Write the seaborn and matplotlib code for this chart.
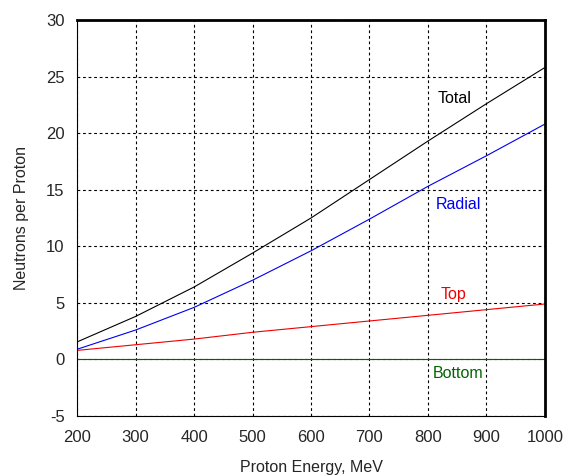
import numpy as np
import pandas as pd
import matplotlib
matplotlib.use("Agg")
import matplotlib.pyplot as plt
import seaborn as sns

energy = [200, 300, 400, 500, 600, 700, 800, 900, 1000]
total = [1.55, 3.8, 6.4, 9.4, 12.5, 15.9, 19.3, 22.6, 25.8]
radial = [0.9, 2.6, 4.6, 7.0, 9.6, 12.4, 15.3, 18.0, 20.8]
top = [0.8, 1.3, 1.8, 2.4, 2.9, 3.4, 3.9, 4.4, 4.9]
bottom = [0.05, 0.05, 0.05, 0.05, 0.05, 0.05, 0.05, 0.05, 0.05]

series = {"Total": total, "Radial": radial, "Top": top, "Bottom": bottom}
colors = {"Total": "#000000", "Radial": "#0000ee", "Top": "#ee0000", "Bottom": "#006400"}
label_pos = {"Total": (846, 23.1), "Radial": (852, 13.7), "Top": (844, 5.7), "Bottom": (852, -1.2)}

df = pd.DataFrame({"energy": energy, **series}).melt(
    id_vars="energy", var_name="part", value_name="neutrons")

sns.set_style("white")
plt.rcParams["font.family"] = ["Liberation Sans", "DejaVu Sans"]
plt.rcParams["axes.unicode_minus"] = False

fig, ax = plt.subplots(figsize=(5.67, 4.76), dpi=100)
fig.subplots_adjust(left=0.136, right=0.961, top=0.958, bottom=0.126)

sns.lineplot(data=df, x="energy", y="neutrons", hue="part", palette=colors,
             linewidth=0.8, legend=False, ax=ax)

for name, (lx, ly) in label_pos.items():
    ax.text(lx, ly, name, color=colors[name], fontsize=11.5, ha="center", va="center")

ax.set_xlim(200, 1000)
ax.set_ylim(-5, 30)
ax.set_xticks(range(200, 1001, 100))
ax.set_yticks(range(-5, 31, 5))
ax.grid(True, color="black", linestyle=(0, (2.5, 2.5)), linewidth=0.8)
ax.tick_params(axis="both", direction="in", length=4, labelsize=12)
ax.tick_params(axis="x", pad=10)
ax.tick_params(axis="y", pad=9)
ax.set_xlabel("Proton Energy, MeV", fontsize=11.5, labelpad=11)
ax.set_ylabel("Neutrons per Proton", fontsize=11.5, labelpad=12)
for side in ["left", "bottom"]:
    ax.spines[side].set_linewidth(0.8)
for side in ["top", "right"]:
    ax.spines[side].set_linewidth(2)
for s in ax.spines.values():
    s.set_color("black")

fig.savefig("out.png", dpi=100)
